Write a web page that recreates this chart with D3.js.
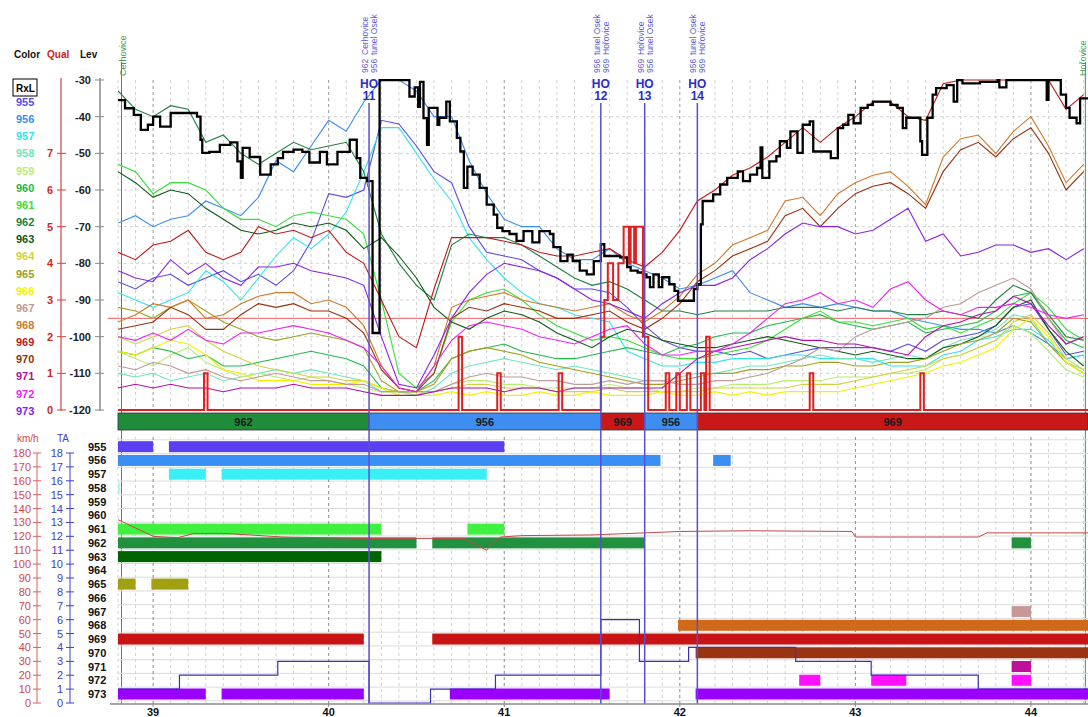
<!DOCTYPE html>
<html><head><meta charset="utf-8">
<script src="https://cdn.jsdelivr.net/npm/d3@7/dist/d3.min.js"></script>
<style>
html,body{margin:0;padding:0;background:#fff;}
svg text{font-family:"Liberation Sans",Arial,Helvetica,sans-serif;}
</style></head>
<body>
<svg id="chart" width="1088" height="717"></svg>
<script>
// ================= DATA =================
const kmGrid = [38.8,38.9,39.0,39.1,39.2,39.3,39.4,39.5,39.6,39.7,
  39.8,39.9,40.0,40.1,40.2,40.3,40.4,40.5,40.6,40.7,
  40.8,40.9,41.0,41.1,41.2,41.3,41.4,41.5,41.6,41.7,
  41.8,41.9,42.0,42.1,42.2,42.3,42.4,42.5,42.6,42.7,
  42.8,42.9,43.0,43.1,43.2,43.3,43.4,43.5,43.6,43.7,
  43.8,43.9,44.0,44.1,44.2,44.3];
const kmTicks = [39,40,41,42,43,44];
const levTicks = [-30,-40,-50,-60,-70,-80,-90,-100,-110,-120];
const qualTicks = [0,1,2,3,4,5,6,7];
const speedTicks = [0,10,20,30,40,50,60,70,80,90,100,110,120,130,140,150,160,170,180];
const taTicks = [0,1,2,3,4,5,6,7,8,9,10,11,12,13,14,15,16,17,18];
const cellIds = ["955","956","957","958","959","960","961","962","963","964","965","966","967","968","969","970","971","972","973"];

const lev955 = [-85,-87,-84,-83,-86,-84,-82,-85,-83,-86,
  -82,-74,-61,-62,-60,-41,-42,-48,-55,-58,
  -70,-77,-78,-79,-82,-84,-87,-87,-88,-92,
  -97,-101,-103,-104,-104,-105,-104,-106,-105,-104,
  -103,-103,-103,-103,-104,-102,-104,-101,-100,-99,
  -97,-92,-91,-98,-105,-104];
const lev956 = [-69,-67,-70,-68,-67,-63,-65,-67,-62,-52,
  -55,-48,-41,-44,-36,-28,-28,-33,-40,-40,
  -52,-61,-68,-70,-70,-76,-79,-79,-76,-80,
  -82,-84,-87,-86,-84,-82,-88,-90,-92,-91,
  -92,-91,-92,-93,-93,-95,-96,-97,-98,-98,
  -99,-97,-99,-102,-106,-105];
const lev957 = [-88,-90,-92,-90,-88,-82,-85,-90,-84,-78,
  -73,-76,-72,-66,-55,-43,-43,-50,-57,-63,
  -73,-79,-84,-88,-91,-92,-94,-95,-96,-104,
  -106,-108,-108,-107,-107,-106,-106,-106,-105,-105,
  -106,-106,-106,-106,-108,-108,-108,-105,-104,-101,
  -100,-98,-98,-101,-106,-105];
const lev958 = [-110,-111,-110,-112,-111,-110,-112,-111,-110,-109,
  -110,-109,-110,-111,-112,-115,-115,-116,-114,-110,
  -108,-107,-106,-107,-108,-109,-108,-109,-110,-111,
  -112,-112,-111,-110,-110,-109,-108,-108,-107,-106,
  -105,-106,-106,-107,-106,-105,-106,-103,-101,-100,
  -98,-94,-95,-102,-107,-109];
const lev959 = [-104,-106,-108,-105,-103,-107,-109,-111,-110,-111,
  -112,-111,-112,-113,-114,-115,-115,-115,-115,-113,
  -112,-112,-113,-113,-114,-114,-114,-114,-113,-114,
  -114,-115,-115,-114,-114,-113,-113,-113,-112,-112,
  -112,-111,-111,-111,-110,-110,-109,-106,-105,-103,
  -101,-97,-99,-104,-109,-111];
const lev960 = [-104,-105,-103,-104,-106,-105,-108,-108,-107,-106,
  -105,-104,-105,-106,-108,-114,-115,-115,-112,-106,
  -104,-103,-102,-104,-105,-106,-106,-105,-104,-103,
  -104,-105,-103,-102,-100,-99,-99,-97,-96,-95,
  -94,-96,-97,-98,-97,-96,-99,-98,-97,-96,
  -93,-89,-88,-95,-101,-103];
const lev961 = [-53,-55,-61,-58,-58,-60,-65,-68,-68,-70,
  -67,-66,-67,-68,-72,-90,-110,-114,-110,-96,
  -90,-88,-87,-90,-94,-97,-99,-101,-100,-101,
  -103,-105,-106,-106,-105,-104,-103,-101,-98,-95,
  -93,-96,-96,-97,-96,-95,-98,-97,-99,-97,
  -95,-91,-88,-92,-98,-101];
const lev962 = [-33,-38,-40,-37,-38,-47,-45,-50,-53,-50,
  -47,-49,-48,-47,-55,-72,-80,-86,-90,-75,
  -72,-73,-73,-75,-78,-81,-84,-86,-85,-87,
  -90,-93,-93,-94,-93,-93,-93,-93,-92,-92,
  -92,-93,-92,-93,-93,-94,-94,-93,-94,-95,
  -90,-86,-88,-94,-100,-101];
const lev963 = [-55,-58,-62,-60,-61,-65,-68,-71,-72,-71,
  -69,-70,-69,-71,-76,-73,-78,-84,-92,-96,
  -98,-95,-93,-94,-96,-99,-101,-103,-100,-98,
  -99,-101,-102,-103,-103,-102,-101,-100,-101,-102,
  -103,-104,-105,-104,-105,-106,-106,-103,-102,-100,
  -97,-92,-90,-98,-104,-108];
const lev964 = [-100,-102,-100,-98,-97,-101,-104,-106,-108,-109,
  -110,-111,-111,-112,-112,-114,-115,-115,-115,-114,
  -113,-113,-114,-114,-114,-115,-115,-115,-114,-115,
  -115,-115,-115,-115,-114,-114,-114,-114,-114,-113,
  -113,-113,-112,-111,-110,-109,-108,-106,-105,-103,
  -101,-96,-94,-99,-106,-109];
const lev965 = [-92,-93,-95,-92,-90,-93,-96,-98,-100,-101,
  -100,-99,-100,-101,-103,-112,-115,-115,-113,-106,
  -104,-103,-104,-105,-107,-108,-109,-110,-111,-112,
  -113,-113,-112,-111,-110,-110,-109,-109,-108,-108,
  -107,-107,-108,-108,-107,-107,-106,-104,-102,-101,
  -99,-95,-96,-102,-107,-110];
const lev966 = [-104,-105,-103,-101,-102,-105,-109,-110,-112,-112,
  -112,-113,-113,-113,-112,-114,-116,-116,-116,-115,
  -116,-115,-116,-116,-115,-116,-116,-115,-116,-116,
  -116,-115,-116,-116,-115,-116,-115,-116,-115,-115,
  -115,-115,-114,-113,-112,-111,-110,-108,-107,-105,
  -103,-98,-95,-100,-107,-110];
const lev967 = [-108,-109,-107,-108,-110,-109,-111,-112,-111,-110,
  -111,-112,-112,-113,-113,-115,-115,-115,-115,-113,
  -111,-110,-111,-111,-112,-112,-113,-113,-112,-113,
  -112,-112,-113,-113,-112,-112,-111,-110,-108,-106,
  -103,-104,-100,-98,-97,-96,-95,-92,-91,-88,
  -86,-84,-87,-95,-102,-100];
const lev968 = [-96,-94,-91,-92,-90,-95,-94,-91,-89,-88,
  -88,-91,-90,-92,-97,-108,-114,-115,-108,-92,
  -90,-89,-88,-90,-91,-92,-93,-92,-91,-94,
  -96,-93,-89,-83,-80,-75,-73,-71,-63,-62,
  -67,-61,-58,-56,-55,-59,-64,-51,-46,-45,
  -50,-44,-40,-48,-58,-53];
const lev969 = [-77,-79,-75,-74,-71,-77,-79,-77,-70,-72,
  -71,-73,-71,-77,-80,-90,-100,-103,-87,-73,
  -73,-73,-74,-75,-77,-78,-78,-77,-76,-79,
  -81,-77,-71,-63,-60,-56,-54,-51,-47,-43,
  -47,-43,-40,-36,-36,-40,-41,-31,-29,-29,
  -28,-28,-28,-30,-38,-34];
const lev970 = [-98,-97,-96,-92,-94,-98,-98,-94,-91,-92,
  -91,-93,-93,-95,-99,-109,-114,-115,-110,-95,
  -92,-93,-91,-92,-93,-95,-95,-94,-93,-96,
  -98,-95,-91,-85,-82,-78,-76,-74,-67,-65,
  -70,-65,-61,-59,-58,-61,-65,-55,-49,-47,
  -51,-46,-43,-50,-60,-55];
const lev971 = [-114,-113,-114,-113,-114,-114,-115,-114,-114,-114,
  -113,-114,-114,-114,-115,-116,-116,-116,-115,-114,
  -114,-114,-115,-114,-114,-115,-114,-114,-114,-114,
  -114,-114,-110,-106,-104,-103,-102,-101,-100,-101,
  -101,-102,-102,-103,-104,-105,-100,-97,-96,-94,
  -93,-89,-91,-97,-102,-100];
const lev972 = [-100,-101,-99,-101,-98,-101,-102,-99,-99,-98,
  -97,-98,-99,-101,-103,-108,-114,-115,-108,-101,
  -97,-96,-97,-98,-100,-101,-102,-100,-98,-97,
  -102,-105,-105,-104,-104,-102,-99,-95,-91,-90,
  -88,-91,-90,-92,-87,-85,-90,-93,-94,-92,
  -92,-91,-92,-94,-95,-94];
const lev973 = [-82,-84,-85,-79,-83,-80,-84,-86,-81,-81,
  -80,-82,-83,-84,-86,-100,-113,-114,-105,-95,
  -88,-83,-80,-81,-82,-84,-87,-90,-91,-93,
  -95,-91,-88,-86,-86,-84,-79,-76,-72,-69,
  -70,-70,-72,-71,-68,-65,-74,-72,-78,-77,
  -75,-75,-77,-76,-79,-76];

// RxL of serving cell: [km, dBm] (step line)
const rxlPoints = [
  [38.80,-35.5],[38.84,-37.7],[38.89,-39.5],[38.93,-43.6],[38.97,-42.2],[39.00,-40],[39.04,-42.7],[39.10,-39],
  [39.19,-39],[39.25,-40],[39.27,-46.3],[39.28,-49.9],[39.32,-49.6],[39.38,-47.7],[39.44,-47],[39.48,-52.2],
  [39.50,-56.7],[39.51,-48.5],[39.55,-51],[39.61,-55.8],[39.67,-53],[39.71,-51.3],[39.74,-49.6],[39.80,-49],
  [39.85,-49.6],[39.89,-52.5],[39.95,-49.6],[39.99,-53],[40.05,-49.6],[40.12,-46.3],[40.16,-51.3],[40.18,-56.7],
  [40.22,-57.6],[40.25,-99],[40.29,-30],[40.45,-30],[40.46,-34.5],[40.49,-32],[40.51,-37.3],[40.52,-30.5],
  [40.54,-40.4],[40.56,-47.7],[40.57,-37.6],[40.62,-42.2],[40.63,-40.3],[40.67,-35.9],[40.69,-41.3],[40.73,-45.8],
  [40.75,-49.5],[40.77,-59.4],[40.79,-53.6],[40.82,-55.8],[40.86,-59.4],[40.90,-64],[40.94,-66.7],[40.96,-70.3],
  [40.99,-71.2],[41.03,-72],[41.07,-73.9],[41.11,-71.2],[41.16,-74.3],[41.20,-71.2],[41.26,-72],[41.28,-75.6],
  [41.32,-79.4],[41.36,-77.6],[41.39,-79.4],[41.43,-82],[41.47,-83],[41.51,-79.4],[41.55,-74.8],[41.57,-78],
  [41.66,-78.4],[41.70,-81],[41.72,-82],[41.76,-82.5],[41.79,-83],[41.81,-83.8],[41.83,-86.5],[41.85,-83],
  [41.88,-86.5],[41.90,-83.8],[41.94,-85.7],[41.97,-87.5],[41.99,-90.2],[42.04,-90.2],[42.08,-87],[42.10,-85.7],
  [42.12,-69.4],[42.13,-63],[42.19,-61.2],[42.23,-58.5],[42.27,-56.7],[42.33,-54.9],[42.36,-57.6],[42.40,-55.8],
  [42.44,-54],[42.46,-48.4],[42.47,-56.7],[42.51,-52.2],[42.55,-50.8],[42.57,-46.7],[42.61,-48.5],[42.63,-44],
  [42.67,-49.9],[42.70,-42.2],[42.74,-41.3],[42.76,-49.5],[42.86,-51.3],[42.90,-43.1],[42.93,-42.2],[42.96,-39.5],
  [42.99,-41.8],[43.03,-37.6],[43.07,-36.8],[43.10,-35.9],[43.20,-36.8],[43.24,-37.6],[43.27,-43.1],[43.29,-40.3],
  [43.37,-46.7],[43.38,-50.4],[43.41,-40.3],[43.44,-34],[43.46,-32.2],[43.52,-31.4],[43.56,-35.9],[43.58,-30],
  [43.61,-30.9],[43.71,-30.5],[43.81,-30],[43.82,-32],[43.86,-30],[44.09,-35.4],[44.10,-30],[44.17,-34],
  [44.20,-37.6],[44.22,-40.3],[44.26,-41.8],[44.28,-35],[44.325,-35]
];
// quality: [km, qual] (step line)
const qualSteps = [
  [38.80,0],[39.29,1],[39.31,0],[40.74,2],[40.76,0],[40.96,1],[40.98,0],[41.31,1],[41.33,0],
  [41.55,2],[41.57,3],[41.59,4],[41.62,3],[41.65,4],[41.68,5],[41.71,4],[41.72,5],[41.74,4],
  [41.75,5],[41.79,2],[41.82,0],[41.92,1],[41.94,0],[41.98,1],[42.00,0],[42.04,1],[42.06,0],
  [42.12,1],[42.14,0],[42.15,2],[42.17,0],[42.74,1],[42.76,0],[43.37,1],[43.39,0],[44.325,0]
];
const thresholdLev = -95;
// speed km/h
const speedPoints = [
  [38.80,132],[39.00,120],[39.14,119],[39.23,122],[39.42,122],[39.74,119.5],[40.22,118.5],[40.77,118.5],
  [40.90,110],[40.93,115],[40.98,119.5],[41.10,120.5],[41.50,121],[42.00,123.5],[42.40,124],[42.98,123.5],
  [43.00,119.5],[43.70,119.5],[43.75,122.5],[44.325,122.5]
];
// timing advance (step)
const taSteps = [
  [38.80,1],[39.15,2],[39.71,3],[40.23,0],[40.58,1],[40.95,2],[41.55,6],[41.77,3],[42.05,4],
  [42.66,3],[43.09,2],[43.70,1],[44.325,1]
];
// serving cell segments
const servingSegments = [[38.80,40.23,"962"],[40.23,41.55,"956"],[41.55,41.80,"969"],[41.80,42.10,"956"],[42.10,44.325,"969"]];
// handovers: km, number, from cell, to cell, from name, to name
const handovers = [
  [40.23,"11","962","956","Cerhovice","tunel Osek"],
  [41.55,"12","956","969","tunel Osek","Hořovice"],
  [41.80,"13","969","956","Hořovice","tunel Osek"],
  [42.10,"14","956","969","tunel Osek","Hořovice"]
];
const stations = [[38.82,"Cerhovice"],[44.31,"Hořovice"]];
// neighbour list bars: cell, from km, to km
const neighbourBars = [
  ["955",38.80,39.00],["955",39.09,41.00],
  ["956",38.80,41.89],["956",42.19,42.29],
  ["957",39.09,39.30],["957",39.39,40.90],
  ["958",38.80,38.81],
  ["961",38.80,40.30],["961",40.79,41.00],
  ["962",38.80,40.50],["962",40.59,41.80],["962",43.89,44.00],
  ["963",38.80,40.30],
  ["965",38.80,38.90],["965",38.99,39.20],
  ["967",43.89,44.00],
  ["968",41.99,44.325],
  ["969",38.80,40.20],["969",40.59,44.325],
  ["970",42.09,44.325],
  ["971",43.89,44.00],
  ["972",42.68,42.80],["972",43.09,43.29],["972",43.89,44.00],
  ["973",38.80,39.30],["973",39.39,40.20],["973",40.69,41.60],["973",42.09,44.325]
];

// ================= STYLES =================
const lineColor = {"955":"#5a4ae6","956":"#3a8ef0","957":"#30e4f0","958":"#6ee6bc","959":"#b8ee70",
  "960":"#22b848","961":"#38e038","962":"#208040","963":"#0b5a14","964":"#d6d040","965":"#a0a020",
  "966":"#f2f200","967":"#c09898","968":"#d07a2a","969":"#c01818","970":"#98300e","971":"#b010a8",
  "972":"#f020f0","973":"#8a20e8"};
const barColor = {"955":"#5a40f0","956":"#3a8ff5","957":"#38f0f5","958":"#b0f0e0","961":"#40f040","962":"#22913f",
  "963":"#006400","965":"#a0a010","967":"#c89898","968":"#d06a1a","969":"#c81414","970":"#993311",
  "971":"#c0109a","972":"#ff10ff","973":"#9900ff"};
const bandColor = {"962":"#1f8c3c","956":"#3d8ef0","969":"#c81818"};
const levSeries = [lev955,lev956,lev957,lev958,lev959,lev960,lev961,lev962,lev963,lev964,lev965,lev966,lev967,lev968,lev969,lev970,lev971,lev972,lev973];

// ================= SCALES =================
const svg = d3.select("#chart");
const x = d3.scaleLinear().domain([38.8, 44.325]).range([118, 1088]);
const yLev = d3.scaleLinear().domain([-120, -30]).range([410, 80]);
const yQual = d3.scaleLinear().domain([0, 9]).range([410, 80]);
const ySpeed = d3.scaleLinear().domain([0, 180]).range([703, 453]);
const yTA = d3.scaleLinear().domain([0, 18]).range([703, 453]);
const yRow = d3.scalePoint().domain(cellIds).range([446.7, 694]);
const rowStep = yRow.step();

const defs = svg.append("defs");
defs.append("clipPath").attr("id","topclip").append("rect").attr("x",118).attr("y",79).attr("width",970).attr("height",333);
defs.append("clipPath").attr("id","botclip").append("rect").attr("x",118).attr("y",437).attr("width",970).attr("height",268);

const isKm = d => Math.abs(d - Math.round(d)) < 1e-6;

// ================= TOP GRID =================
const gTop = svg.append("g");
gTop.selectAll("line.vg").data(kmGrid).join("line")
  .attr("x1", d => x(d)).attr("x2", d => x(d)).attr("y1", 80).attr("y2", 410)
  .attr("stroke", d => isKm(d) ? "#9a9a9a" : "#d2d2d2")
  .attr("stroke-dasharray", "3,3").attr("stroke-width", 1);
gTop.selectAll("line.hg").data(levTicks.filter(v => v > -120 && v < -30)).join("line")
  .attr("x1", 118).attr("x2", 1088).attr("y1", d => yLev(d)).attr("y2", d => yLev(d))
  .attr("stroke", "#d2d2d2").attr("stroke-dasharray", "3,3");

// station lines
svg.selectAll("line.st").data(stations).join("line")
  .attr("x1", d => x(d[0])).attr("x2", d => x(d[0])).attr("y1", 62).attr("y2", 704)
  .attr("stroke", "#3c9a4c").attr("stroke-width", 1);
svg.selectAll("text.st").data(stations).join("text")
  .attr("transform", d => `translate(${Math.min(x(d[0]) + 4, 1086)},76) rotate(-90)`)
  .attr("font-size", 9).attr("fill", "#3c9a4c").text(d => d[1]);

// threshold line
svg.append("line").attr("x1", 108).attr("x2", 1088).attr("y1", yLev(thresholdLev)).attr("y2", yLev(thresholdLev))
  .attr("stroke", "#e86060").attr("stroke-width", 1);

// ================= SERIES =================
const gLines = svg.append("g").attr("clip-path", "url(#topclip)");
const lineGen = d3.line().x((d, i) => x(kmGrid[i])).y(d => yLev(Math.min(d, -30)));
cellIds.forEach((id, k) => {
  gLines.append("path").datum(levSeries[k]).attr("d", lineGen)
    .attr("fill", "none").attr("stroke", lineColor[id]).attr("stroke-width", 1.1);
});
// RxL
gLines.append("path").datum(rxlPoints)
  .attr("d", d3.line().curve(d3.curveStepAfter).x(d => x(d[0])).y(d => yLev(Math.min(d[1], -30))))
  .attr("fill", "none").attr("stroke", "#000").attr("stroke-width", 2.3);
// Qual
gLines.append("path").datum(qualSteps)
  .attr("d", d3.line().curve(d3.curveStepAfter).x(d => x(d[0])).y(d => yQual(d[1])))
  .attr("fill", "none").attr("stroke", "#e02020").attr("stroke-width", 2);

// ================= SERVING BAND =================
const gBand = svg.append("g");
gBand.selectAll("rect").data(servingSegments).join("rect")
  .attr("x", d => x(d[0])).attr("width", d => x(d[1]) - x(d[0]))
  .attr("y", 413).attr("height", 17).attr("fill", d => bandColor[d[2]])
  .attr("stroke", "#333").attr("stroke-width", 0.8);
gBand.selectAll("text").data(servingSegments).join("text")
  .attr("x", d => (x(d[0]) + x(d[1])) / 2).attr("y", 425.5).attr("text-anchor", "middle")
  .attr("font-size", 11).attr("font-weight", "bold").attr("fill", "#1a1a1a").text(d => d[2]);

// ================= BOTTOM GRID =================
const gBot = svg.append("g");
gBot.selectAll("line.rg").data(cellIds.concat(["end"])).join("line")
  .attr("x1", 118).attr("x2", 1088)
  .attr("y1", (d, i) => yRow(cellIds[0]) - rowStep / 2 + i * rowStep)
  .attr("y2", (d, i) => yRow(cellIds[0]) - rowStep / 2 + i * rowStep)
  .attr("stroke", "#dcdcdc").attr("stroke-width", 1);
gBot.selectAll("line.vg").data(kmGrid).join("line")
  .attr("x1", d => x(d)).attr("x2", d => x(d)).attr("y1", 437).attr("y2", 704)
  .attr("stroke", d => isKm(d) ? "#8a8a8a" : "#d2d2d2")
  .attr("stroke-dasharray", "3,3");

// bars
svg.append("g").selectAll("rect").data(neighbourBars).join("rect")
  .attr("x", d => x(d[1])).attr("width", d => Math.max(1, x(d[2]) - x(d[1])))
  .attr("y", d => yRow(d[0]) - 5.5).attr("height", 11)
  .attr("fill", d => barColor[d[0]]);

// speed
svg.append("path").datum(speedPoints).attr("clip-path", "url(#botclip)")
  .attr("d", d3.line().x(d => x(d[0])).y(d => ySpeed(d[1])))
  .attr("fill", "none").attr("stroke", "#c24848").attr("stroke-width", 1);
// TA
svg.append("path").datum(taSteps).attr("clip-path", "url(#botclip)")
  .attr("d", d3.line().curve(d3.curveStepAfter).x(d => x(d[0])).y(d => yTA(d[1])))
  .attr("fill", "none").attr("stroke", "#3a30b8").attr("stroke-width", 1.2);

// ================= HANDOVERS =================
const gHo = svg.append("g");
gHo.selectAll("line").data(handovers).join("line")
  .attr("x1", d => x(d[0])).attr("x2", d => x(d[0])).attr("y1", 103).attr("y2", 704)
  .attr("stroke", "#5a4ed2").attr("stroke-width", 1.5);
gHo.selectAll("text.ho").data(handovers).join("text")
  .attr("x", d => x(d[0])).attr("y", 88).attr("text-anchor", "middle")
  .attr("font-size", 12).attr("font-weight", "bold").attr("fill", "#2c2cc8").text("HO");
gHo.selectAll("text.hon").data(handovers).join("text")
  .attr("x", d => x(d[0])).attr("y", 100).attr("text-anchor", "middle")
  .attr("font-size", 12).attr("font-weight", "bold").attr("fill", "#2c2cc8").text(d => d[1]);
handovers.forEach(h => {
  const x0 = x(h[0]);
  [[x0 - 1, h[2], h[4]], [x0 + 8, h[3], h[5]]].forEach(c => {
    gHo.append("text").attr("transform", `translate(${c[0]},73) rotate(-90)`)
      .attr("font-size", 8.5).attr("fill", "#5a5ad8").text(c[1]);
    gHo.append("text").attr("transform", `translate(${c[0]},55) rotate(-90)`)
      .attr("font-size", 8.5).attr("fill", "#5a5ad8").text(c[2]);
  });
});

// ================= AXES =================
// Lev axis
const gLev = svg.append("g");
gLev.append("line").attr("x1", 100).attr("x2", 100).attr("y1", 78).attr("y2", 411).attr("stroke", "#8a8a8a").attr("stroke-width", 1.5);
gLev.selectAll("line.t").data(levTicks).join("line")
  .attr("x1", 95).attr("x2", 104).attr("y1", d => yLev(d)).attr("y2", d => yLev(d)).attr("stroke", "#8a8a8a");
gLev.selectAll("text").data(levTicks).join("text")
  .attr("x", 91).attr("y", d => yLev(d) + 4).attr("text-anchor", "end")
  .attr("font-size", 11).attr("font-weight", "bold").attr("fill", "#222").text(d => d);
// Qual axis
const gQ = svg.append("g");
gQ.append("line").attr("x1", 61).attr("x2", 61).attr("y1", 78).attr("y2", 411).attr("stroke", "#d84040").attr("stroke-width", 1.2);
gQ.selectAll("line.t").data(qualTicks).join("line")
  .attr("x1", 57).attr("x2", 66).attr("y1", d => yQual(d)).attr("y2", d => yQual(d)).attr("stroke", "#d84040");
gQ.selectAll("text").data(qualTicks).join("text")
  .attr("x", 53).attr("y", d => yQual(d) + 4).attr("text-anchor", "end")
  .attr("font-size", 11).attr("font-weight", "bold").attr("fill", "#d02828").text(d => d);

// speed axis
const gS = svg.append("g");
gS.append("line").attr("x1", 37).attr("x2", 37).attr("y1", ySpeed(180)).attr("y2", ySpeed(0)).attr("stroke", "#d86060");
gS.selectAll("line.t").data(speedTicks).join("line")
  .attr("x1", 33).attr("x2", 41).attr("y1", d => ySpeed(d)).attr("y2", d => ySpeed(d)).attr("stroke", "#d86060");
gS.selectAll("text").data(speedTicks).join("text")
  .attr("x", 31).attr("y", d => ySpeed(d) + 4).attr("text-anchor", "end")
  .attr("font-size", 11).attr("fill", "#d04848").text(d => d);
svg.append("text").attr("x", 17).attr("y", 442).attr("font-size", 10).attr("fill", "#d04848").text("km/h");
// TA axis
const gT = svg.append("g");
gT.append("line").attr("x1", 70).attr("x2", 70).attr("y1", yTA(18)).attr("y2", yTA(0)).attr("stroke", "#4040c0");
gT.selectAll("line.t").data(taTicks).join("line")
  .attr("x1", 66).attr("x2", 74).attr("y1", d => yTA(d)).attr("y2", d => yTA(d)).attr("stroke", "#4040c0");
gT.selectAll("text").data(taTicks).join("text")
  .attr("x", 63).attr("y", d => yTA(d) + 4).attr("text-anchor", "end")
  .attr("font-size", 11).attr("fill", "#4040c0").text(d => d);
svg.append("text").attr("x", 57).attr("y", 442).attr("font-size", 10).attr("fill", "#4040c0").text("TA");

// row labels
svg.append("g").selectAll("text").data(cellIds).join("text")
  .attr("x", 88).attr("y", d => yRow(d) + 4).attr("font-size", 11).attr("font-weight", "bold")
  .attr("fill", "#111").text(d => d);

// x axis
const gX = svg.append("g");
gX.append("line").attr("x1", 110).attr("x2", 1088).attr("y1", 704).attr("y2", 704).attr("stroke", "#8a8a8a").attr("stroke-width", 1.5);
gX.selectAll("line.t").data(kmTicks).join("line")
  .attr("x1", d => x(d)).attr("x2", d => x(d)).attr("y1", 704).attr("y2", 707).attr("stroke", "#8a8a8a");
gX.selectAll("text").data(kmTicks).join("text")
  .attr("x", d => x(d)).attr("y", 716).attr("text-anchor", "middle")
  .attr("font-size", 11).attr("font-weight", "bold").attr("fill", "#111").text(d => d);

// ================= LEGEND =================
svg.append("text").attr("x", 14).attr("y", 58).attr("font-size", 10).attr("font-weight", "bold").attr("fill", "#111").text("Color");
svg.append("text").attr("x", 47).attr("y", 58).attr("font-size", 10).attr("font-weight", "bold").attr("fill", "#d02020").text("Qual");
svg.append("text").attr("x", 80).attr("y", 58).attr("font-size", 10).attr("font-weight", "bold").attr("fill", "#111").text("Lev");
svg.append("rect").attr("x", 13).attr("y", 79).attr("width", 24).attr("height", 17).attr("fill", "#fff").attr("stroke", "#000");
svg.append("text").attr("x", 16).attr("y", 92).attr("font-size", 10).attr("font-weight", "bold").attr("fill", "#000").text("RxL");
svg.append("g").selectAll("text").data(cellIds).join("text")
  .attr("x", 16).attr("y", (d, i) => 106 + i * 17.15).attr("font-size", 11).attr("font-weight", "bold")
  .attr("fill", d => lineColor[d]).text(d => d);
</script>
</body></html>
